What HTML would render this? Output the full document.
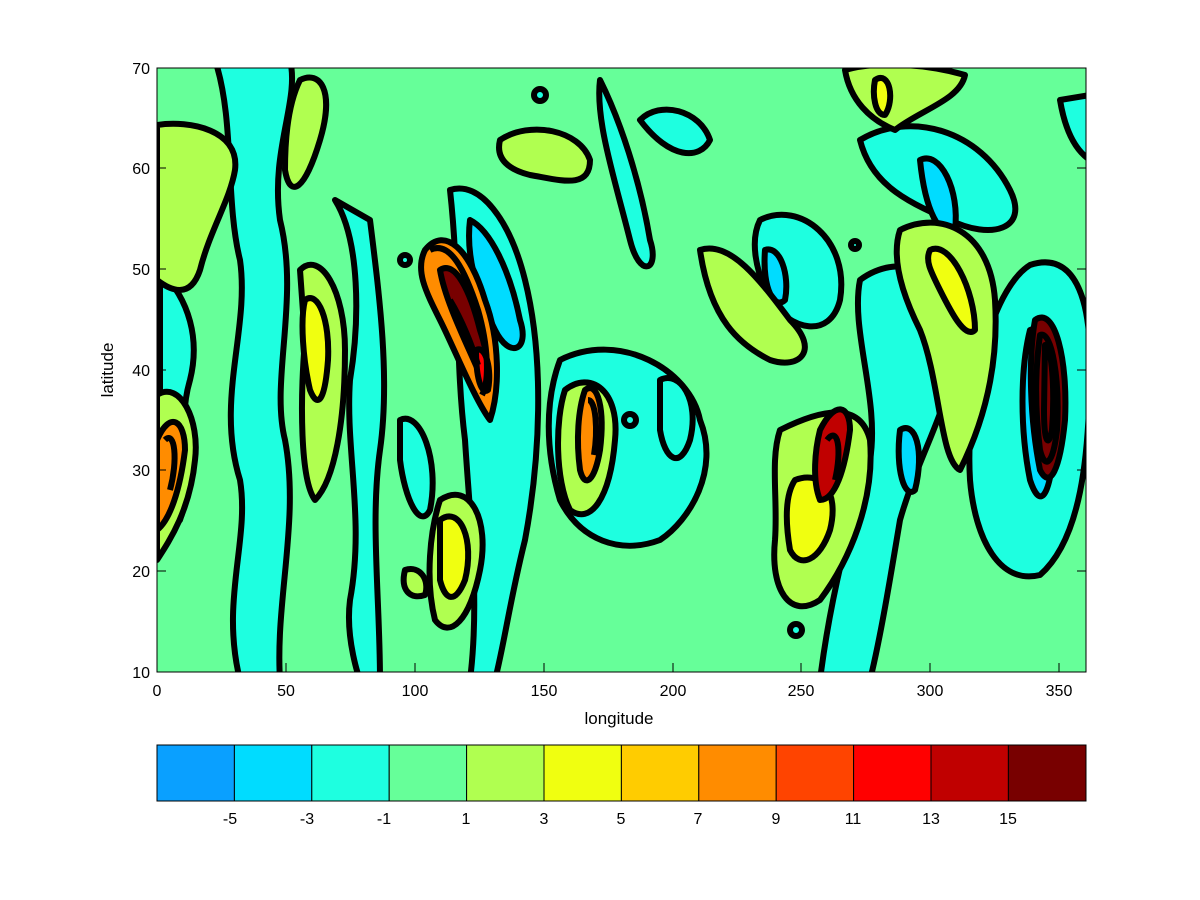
<!DOCTYPE html>
<html><head><style>
body{margin:0;background:#fff;}
svg{display:block;font-family:"Liberation Sans",sans-serif;}
</style></head><body>
<svg width="1200" height="900" viewBox="0 0 1200 900" xmlns="http://www.w3.org/2000/svg">
<rect width="1200" height="900" fill="#fff"/>
<defs><clipPath id="c"><rect x="157" y="68" width="929" height="604"/></clipPath></defs>
<g clip-path="url(#c)" stroke="#000" stroke-width="6" stroke-linejoin="round">
<rect x="157" y="68" width="929" height="604" fill="#66ff99" stroke="none"/>
<!-- cyan bands -->
<path d="M215,60 C235,120 225,200 240,260 C250,330 215,400 240,480 C250,540 220,600 240,680 L280,680 C275,600 300,520 285,440 C270,380 300,300 280,220 C270,150 300,100 290,60 Z" fill="#1effe0"/>
<path d="M160,270 C190,300 200,340 190,380 C175,430 195,480 180,520 L160,540 Z" fill="#1effe0"/>
<path d="M450,190 C480,180 510,220 525,280 C545,360 540,460 525,540 C510,600 505,640 495,680 L470,680 C480,600 470,520 465,440 C455,360 460,280 450,190 Z" fill="#1effe0"/>
<path d="M335,200 C360,240 360,320 350,380 C345,450 365,520 350,600 C345,640 360,680 360,680 L380,680 C380,600 370,520 380,450 C390,380 380,300 370,220 Z" fill="#1effe0"/>
<path d="M560,360 C620,330 690,370 700,420 C720,470 690,520 660,540 C620,555 580,540 560,500 C545,450 545,400 560,360 Z" fill="#1effe0"/>
<path d="M600,80 C620,120 640,180 650,240 C660,270 640,280 630,240 C615,180 595,120 600,80 Z" fill="#1effe0"/>
<path d="M760,220 C800,200 850,240 840,300 C830,340 790,330 770,300 C755,270 750,240 760,220 Z" fill="#1effe0"/>
<path d="M860,280 C900,250 960,270 960,330 C955,400 920,450 900,520 C890,580 880,640 870,680 L820,680 C830,600 850,520 870,460 C880,400 850,330 860,280 Z" fill="#1effe0"/>
<path d="M1030,265 C1075,250 1090,300 1090,360 C1090,460 1080,540 1040,575 C1000,585 975,540 970,480 C965,400 990,290 1030,265 Z" fill="#1effe0"/>
<path d="M860,140 C910,110 980,130 1010,190 C1030,230 990,240 950,220 C900,200 870,180 860,140 Z" fill="#1effe0"/>
<path d="M400,420 C420,410 440,460 430,510 C420,530 405,500 400,460 Z" fill="#1effe0"/>
<path d="M660,380 C680,370 700,400 690,440 C680,470 665,460 660,430 Z" fill="#1effe0"/>
<path d="M1060,100 L1090,95 L1090,160 C1075,150 1065,130 1060,100 Z" fill="#1effe0"/>
<path d="M640,120 C660,100 700,110 710,140 C700,160 670,160 640,120 Z" fill="#1effe0"/>
<!-- dark cyan -->
<path d="M470,220 C490,230 510,270 520,320 C530,350 510,360 495,330 C480,300 465,260 470,220 Z" fill="#00dcff"/>
<path d="M1030,330 C1050,320 1060,380 1055,440 C1050,500 1040,510 1030,480 C1020,430 1020,370 1030,330 Z" fill="#00dcff"/>
<path d="M920,160 C940,150 960,190 955,230 C940,240 925,210 920,160 Z" fill="#00dcff"/>
<path d="M900,430 C915,420 925,450 915,490 C905,500 895,470 900,430 Z" fill="#00dcff"/>
<path d="M765,250 C780,245 790,275 785,300 C775,310 762,290 765,250 Z" fill="#00dcff"/>
<!-- yellow-green -->
<path d="M157,125 C190,120 240,130 235,170 C230,200 210,230 200,270 C190,300 170,290 157,280 Z" fill="#b0ff50"/>
<path d="M300,270 C320,250 345,290 345,350 C345,420 335,480 315,500 C300,480 300,400 305,340 Z" fill="#b0ff50"/>
<path d="M157,395 C180,380 200,420 195,460 C190,510 170,540 157,560 Z" fill="#b0ff50"/>
<path d="M440,500 C470,480 490,520 480,570 C470,620 450,640 435,620 C425,580 430,530 440,500 Z" fill="#b0ff50"/>
<path d="M565,390 C590,370 620,390 615,440 C610,500 590,525 570,510 C555,480 555,420 565,390 Z" fill="#b0ff50"/>
<path d="M780,430 C820,410 860,400 870,440 C875,500 850,560 820,600 C790,620 770,590 775,540 C778,500 770,460 780,430 Z" fill="#b0ff50"/>
<path d="M900,230 C940,210 990,230 995,300 C1000,380 975,440 960,470 C940,460 940,380 920,330 C905,300 890,260 900,230 Z" fill="#b0ff50"/>
<path d="M500,140 C530,120 580,130 590,160 C590,190 560,180 530,175 C510,170 495,160 500,140 Z" fill="#b0ff50"/>
<path d="M845,70 C880,60 930,65 965,75 C960,100 920,110 895,130 C870,120 850,100 845,70 Z" fill="#b0ff50"/>
<path d="M700,250 C730,240 760,280 790,320 C820,350 800,370 770,360 C740,345 710,320 700,250 Z" fill="#b0ff50"/>
<path d="M300,80 C320,70 335,90 320,140 C305,190 290,200 285,170 C285,130 290,100 300,80 Z" fill="#b0ff50"/>
<path d="M405,570 C420,565 430,580 425,595 C410,600 400,590 405,570 Z" fill="#b0ff50"/>
<!-- yellow -->
<path d="M305,300 C318,290 330,320 328,360 C325,400 318,410 310,390 C303,360 300,320 305,300 Z" fill="#f0ff10"/>
<path d="M795,480 C820,470 840,490 830,530 C820,560 800,570 790,550 C785,520 785,495 795,480 Z" fill="#f0ff10"/>
<path d="M930,250 C950,240 975,290 975,330 C965,340 950,310 940,290 C930,270 925,260 930,250 Z" fill="#f0ff10"/>
<path d="M440,520 C460,505 475,540 465,580 C455,605 445,600 440,580 Z" fill="#f0ff10"/>
<path d="M875,80 C890,70 895,100 885,115 C875,115 872,95 875,80 Z" fill="#f0ff10"/>
<!-- orange/dark -->
<path d="M157,440 C170,410 185,420 185,450 C180,490 170,520 157,530 Z" fill="#ff8c00"/>
<path d="M425,250 C445,225 470,250 485,300 C500,340 500,390 490,420 C475,400 455,350 440,320 C425,290 415,270 425,250 Z" fill="#ff8c00"/>
<path d="M440,270 C455,260 470,290 480,330 C490,360 488,380 478,370 C465,340 445,300 440,270 Z" fill="#780000"/>
<path d="M1035,320 C1055,305 1068,360 1065,420 C1060,470 1050,490 1040,470 C1030,420 1028,360 1035,320 Z" fill="#780000"/>
<path d="M820,430 C835,400 850,405 850,430 C845,470 835,500 820,500 C812,480 815,450 820,430 Z" fill="#c00000"/>
<path d="M585,390 C598,380 605,410 600,450 C595,480 585,490 580,470 C576,440 578,410 585,390 Z" fill="#ff8c00"/>
<path d="M476,350 C486,345 492,370 488,390 C482,395 476,380 476,350 Z" fill="#ff0000"/>
<!-- extra black contour clutter near intense regions -->
<path d="M1040,335 C1052,330 1060,380 1057,430 C1053,465 1045,470 1040,450 C1035,410 1035,370 1040,335 Z" fill="none"/>
<path d="M1045,345 C1052,345 1055,390 1052,430 C1048,450 1044,440 1044,410 Z" fill="none"/>
<path d="M430,250 C450,240 465,270 478,310 C488,345 490,380 482,395" fill="none"/>
<path d="M450,300 C462,320 472,345 478,365" fill="none"/>
<path d="M588,400 C596,400 598,430 594,455" fill="none"/>
<path d="M165,440 C175,430 178,460 170,490" fill="none"/>
<path d="M827,440 C838,425 842,450 835,480" fill="none"/>
<circle cx="630" cy="420" r="6" fill="#1effe0"/>
<circle cx="855" cy="245" r="4" fill="#1effe0"/>
<circle cx="540" cy="95" r="6" fill="#1effe0"/>
<circle cx="405" cy="260" r="5" fill="#1effe0"/>
<circle cx="796" cy="630" r="6" fill="#1effe0"/>
</g>
<rect x="157" y="68" width="929" height="604" fill="none" stroke="#000" stroke-width="1"/>
<g stroke="#000" stroke-width="1">
<line x1="157" y1="672" x2="157" y2="663"/><line x1="286" y1="672" x2="286" y2="663"/><line x1="415" y1="672" x2="415" y2="663"/><line x1="544" y1="672" x2="544" y2="663"/><line x1="673" y1="672" x2="673" y2="663"/><line x1="801" y1="672" x2="801" y2="663"/><line x1="930" y1="672" x2="930" y2="663"/><line x1="1059" y1="672" x2="1059" y2="663"/>
<line x1="157" y1="571" x2="166" y2="571"/><line x1="157" y1="470" x2="166" y2="470"/><line x1="157" y1="370" x2="166" y2="370"/><line x1="157" y1="269" x2="166" y2="269"/><line x1="157" y1="168" x2="166" y2="168"/>
<line x1="1086" y1="571" x2="1077" y2="571"/><line x1="1086" y1="470" x2="1077" y2="470"/><line x1="1086" y1="370" x2="1077" y2="370"/><line x1="1086" y1="269" x2="1077" y2="269"/><line x1="1086" y1="168" x2="1077" y2="168"/>
</g>
<g font-size="16" fill="#000" text-anchor="middle">
<text x="157" y="696">0</text><text x="286" y="696">50</text><text x="415" y="696">100</text><text x="544" y="696">150</text><text x="673" y="696">200</text><text x="801" y="696">250</text><text x="930" y="696">300</text><text x="1059" y="696">350</text>
<text x="619" y="724" font-size="17">longitude</text>
</g>
<g font-size="16" fill="#000" text-anchor="end">
<text x="150" y="678">10</text><text x="150" y="577">20</text><text x="150" y="476">30</text><text x="150" y="376">40</text><text x="150" y="275">50</text><text x="150" y="174">60</text><text x="150" y="74">70</text>
</g>
<text x="113" y="370" font-size="17" text-anchor="middle" transform="rotate(-90 113 370)">latitude</text>
<g stroke="#000" stroke-width="1">
<rect x="157" y="745" width="77.4" height="56" fill="#0aa0ff"/>
<rect x="234.4" y="745" width="77.4" height="56" fill="#00dcff"/>
<rect x="311.8" y="745" width="77.4" height="56" fill="#1effe0"/>
<rect x="389.2" y="745" width="77.4" height="56" fill="#66ff99"/>
<rect x="466.6" y="745" width="77.4" height="56" fill="#b0ff50"/>
<rect x="544" y="745" width="77.4" height="56" fill="#f0ff10"/>
<rect x="621.4" y="745" width="77.4" height="56" fill="#ffcc00"/>
<rect x="698.8" y="745" width="77.4" height="56" fill="#ff8c00"/>
<rect x="776.2" y="745" width="77.4" height="56" fill="#ff4400"/>
<rect x="853.6" y="745" width="77.4" height="56" fill="#ff0000"/>
<rect x="931" y="745" width="77.4" height="56" fill="#c00000"/>
<rect x="1008.4" y="745" width="77.6" height="56" fill="#780000"/>
</g>
<g font-size="16" fill="#000" text-anchor="middle">
<text x="230" y="824">-5</text><text x="307" y="824">-3</text><text x="384" y="824">-1</text><text x="466" y="824">1</text><text x="544" y="824">3</text><text x="621" y="824">5</text><text x="698" y="824">7</text><text x="776" y="824">9</text><text x="853" y="824">11</text><text x="931" y="824">13</text><text x="1008" y="824">15</text>
</g>
</svg>
</body></html>
